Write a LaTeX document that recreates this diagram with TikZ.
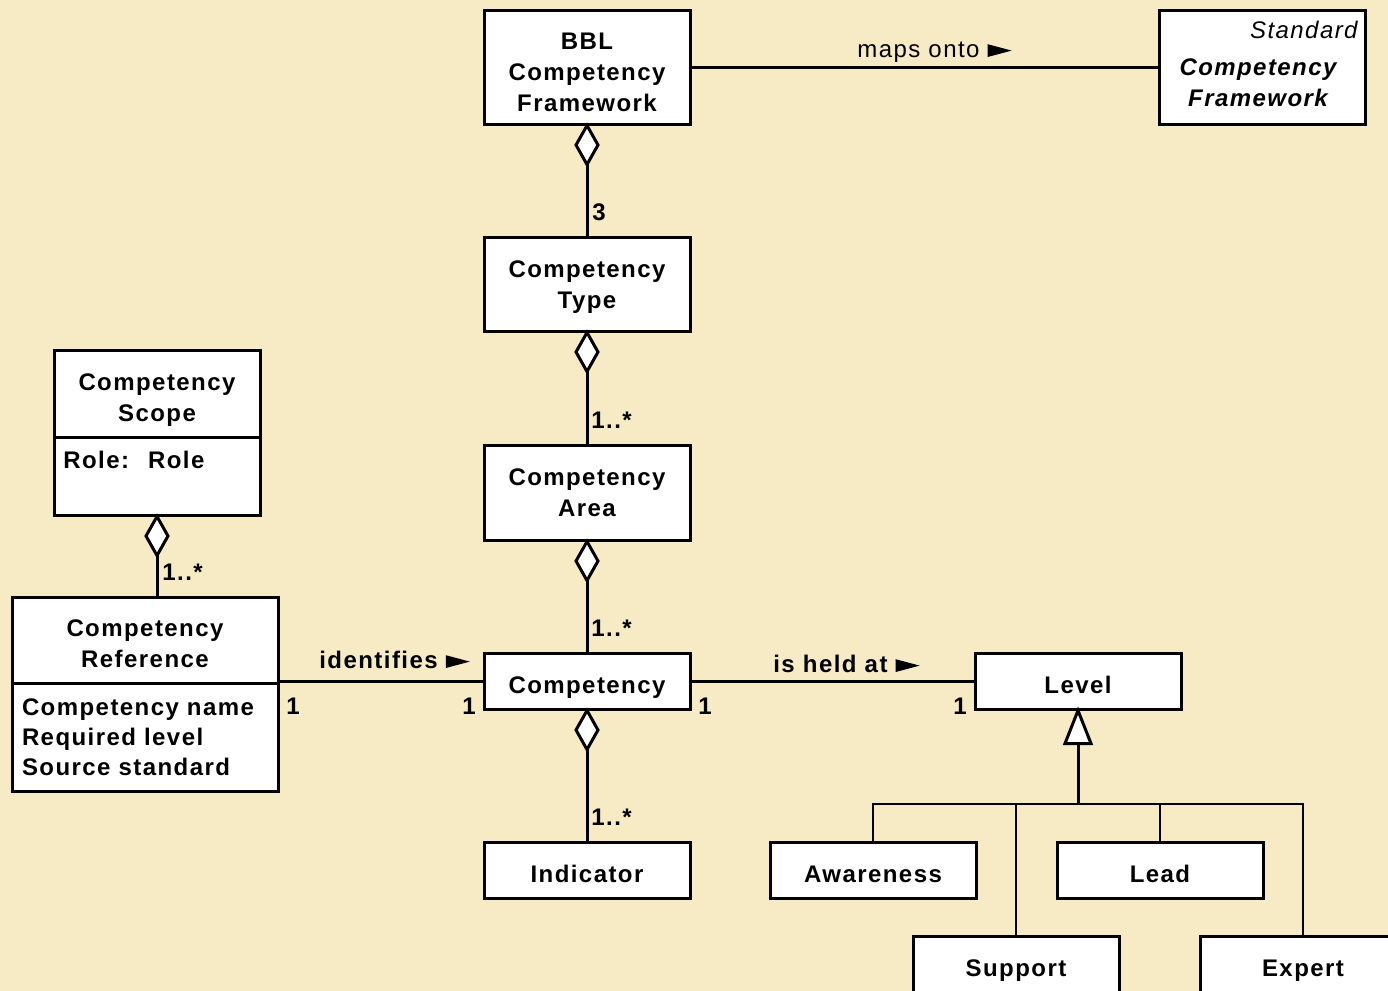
\documentclass[tikz,border=0pt]{standalone}
\usepackage{fontspec}
\setmainfont{Liberation Sans}[LetterSpace=6]
\usetikzlibrary{calc}
\definecolor{bg}{RGB}{247,235,197}
\newcommand\aggdiamond[1]{\filldraw[conn,fill=white] (#1) -- ++(11,19.5) -- ++(-11,19.5) -- ++(-11,-19.5) -- cycle;}
\newcommand\ptr{\tikz[baseline=0pt]\fill (0pt,0pt) -- (12pt,3.2pt) -- (0pt,6.4pt) -- cycle;}
\newcommand\up[1]{\rule{0pt}{#1}}
\begin{document}
\begin{tikzpicture}[x=0.5pt,y=-0.5pt,
  box/.style={draw,line width=1.5pt,fill=white,minimum width=103pt,inner sep=0pt,align=center,font=\fontsize{12}{15.5}\selectfont\bfseries},
  one/.style={box,minimum height=28pt,text height=12.8pt,text depth=0pt},
  lbl/.style={inner sep=0pt,font=\fontsize{12}{15.5}\selectfont\bfseries,anchor=base west},
  conn/.style={line width=1.5pt},
  thin/.style={line width=1.3pt},
]
\fill[bg] (0,0) rectangle (1388,991);
\useasboundingbox (0,0) rectangle (1388,991);

% boxes
\node[box,minimum height=57pt] (bbl) at (587,67) {\up{13.8pt}BBL\\Competency\\Framework};
\node[box,minimum height=57pt] (std) at (1262,67) {};
\node[lbl,font=\fontsize{12}{15.5}\selectfont\itshape,anchor=base east] (stdl) at (1358,38) {Standard};
\node[lbl,font=\fontsize{12}{15.5}\selectfont\bfseries\itshape,align=center,anchor=center] (stdt) at (1258,83) {Competency\\Framework};
\node[box,minimum height=47pt] (type) at (587,284) {\up{11.3pt}Competency\\Type};
\node[box,minimum height=47.5pt] (area) at (587,492.5) {Competency\\Area};
\node[one] (comp) at (587,681) {Competency};
\node[one] (ind) at (587,870) {Indicator};
\node[one] (level) at (1078,681) {Level};
\node[one] (aware) at (873,870) {Awareness};
\node[one] (lead) at (1160,870) {Lead};
\node[one] (support) at (1016,964) {Support};
\node[one] (expert) at (1303,964) {Expert};

\node[box,minimum height=43.5pt] (scopeT) at (157,393.5) {\up{15.3pt}Competency\\Scope};
\node[box,minimum height=39pt] (scopeB) at (157,476) {};
\node[lbl] (role) at (63,468) {Role:~ Role};

\node[box,minimum width=133pt,minimum height=43pt] (refT) at (145,640) {\up{12.3pt}Competency\\Reference};
\node[box,minimum width=133pt,minimum height=54pt,text width=123pt,inner xsep=5pt,align=left,font=\fontsize{12}{15}\selectfont\bfseries] (refB) at (145,737) {Competency name\\Required level\\Source standard};

% aggregations
\draw[conn] (bbl.south) -- (type.north);
\aggdiamond{bbl.south}
\draw[conn] (type.south) -- (area.north);
\aggdiamond{type.south}
\draw[conn] (area.south) -- (comp.north);
\aggdiamond{area.south}
\draw[conn] (comp.south) -- (ind.north);
\aggdiamond{comp.south}
\draw[conn] (scopeB.south) -- (scopeB.south |- refT.north);
\aggdiamond{scopeB.south}

\node[lbl] (m1) at (592,220) {3};
\node[lbl] (m2) at (591,428) {1..*};
\node[lbl] (m3) at (591,636) {1..*};
\node[lbl] (m4) at (591,825) {1..*};
\node[lbl] (m5) at (162,580) {1..*};

% associations
\draw[conn] (bbl.east) -- (std.west);
\node[lbl,font=\fontsize{12}{15.5}\selectfont] (maps) at (857,57) {maps onto \ptr};

\draw[conn] (comp.west) -- (comp.west -| refT.east);
\node[lbl] (ident) at (319,668) {identifies \ptr};
\node[lbl] (r1) at (286,714) {1};
\node[lbl] (r2) at (462,714) {1};

\draw[conn] (comp.east) -- (level.west);
\node[lbl] (held) at (773,672) {is held at \ptr};
\node[lbl] (r3) at (698,714) {1};
\node[lbl] (r4) at (953,714) {1};

% generalization
\coordinate (gtri) at ($(level.south)+(0,33)$);
\coordinate (gj) at (1078,804);
\draw[conn] (gtri) -- (gj);
\filldraw[conn,fill=white,line join=miter] (level.south) -- ++(13,33) -- ++(-26,0) -- cycle;
\draw[thin] (aware.north) -- (aware.north |- gj) -- (expert.north |- gj) -- (expert.north);
\draw[thin] (support.north) -- (support.north |- gj);
\draw[thin] (lead.north) -- (lead.north |- gj);
\end{tikzpicture}
\end{document}
